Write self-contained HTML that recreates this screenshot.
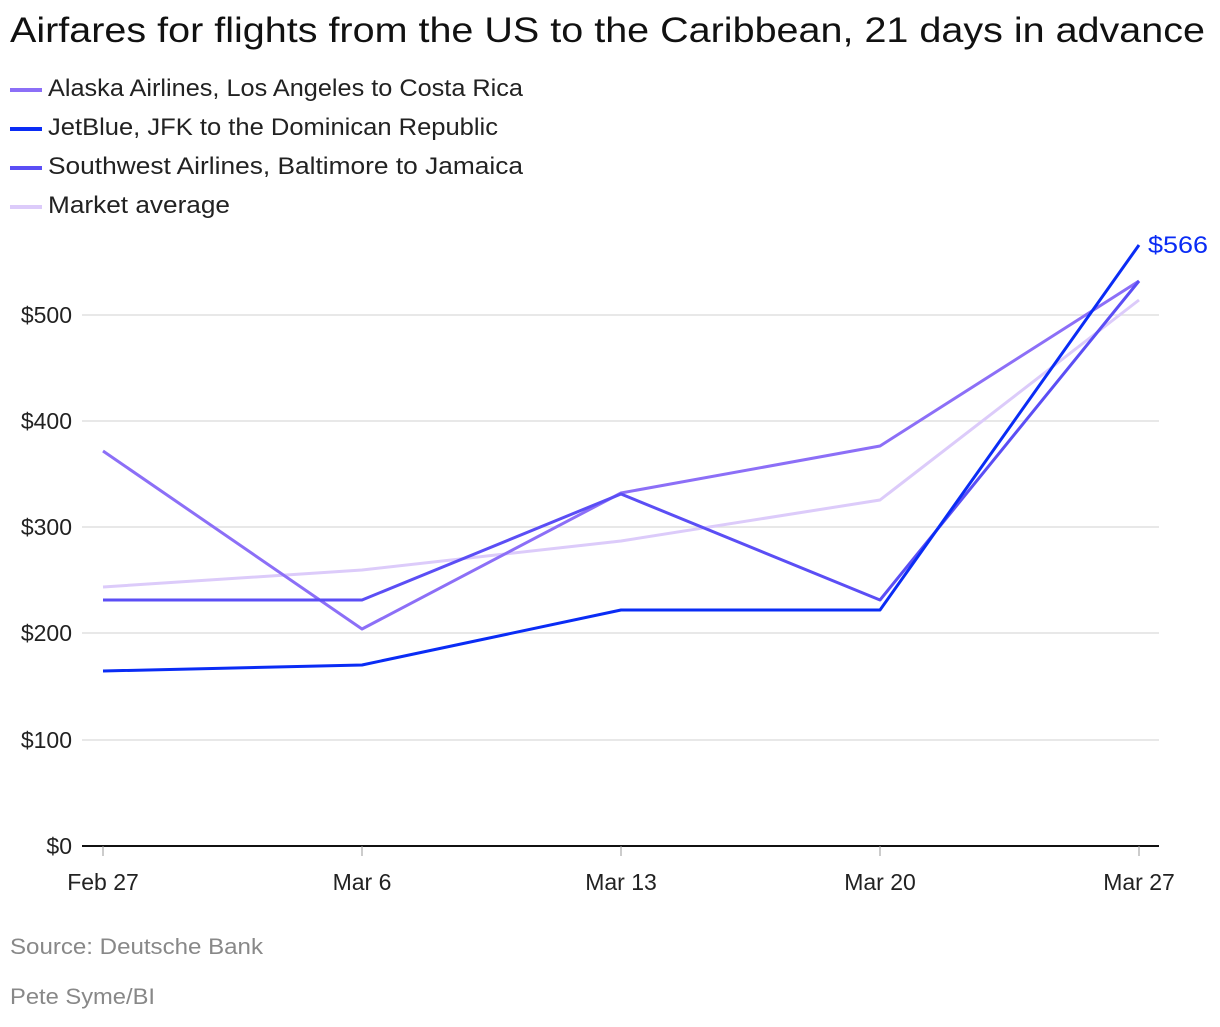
<!DOCTYPE html>
<html><head><meta charset="utf-8"><style>
body{margin:0;background:#fff;font-family:"Liberation Sans",sans-serif;}
</style></head><body>
<svg width="1220" height="1022" xmlns="http://www.w3.org/2000/svg" font-family="Liberation Sans, sans-serif">
<text x="10" y="42" font-size="35" fill="#111" textLength="1195" lengthAdjust="spacingAndGlyphs">Airfares for flights from the US to the Caribbean, 21 days in advance</text>
<g font-size="24" fill="#222">
<line x1="10" y1="90" x2="42" y2="90" stroke="#8c6ff7" stroke-width="4"/><text x="48" y="96" textLength="475" lengthAdjust="spacingAndGlyphs">Alaska Airlines, Los Angeles to Costa Rica</text>
<line x1="10" y1="129" x2="42" y2="129" stroke="#0a2cf5" stroke-width="4"/><text x="48" y="135" textLength="450" lengthAdjust="spacingAndGlyphs">JetBlue, JFK to the Dominican Republic</text>
<line x1="10" y1="168" x2="42" y2="168" stroke="#5b4ef5" stroke-width="4"/><text x="48" y="174" textLength="475" lengthAdjust="spacingAndGlyphs">Southwest Airlines, Baltimore to Jamaica</text>
<line x1="10" y1="207" x2="42" y2="207" stroke="#dccbfa" stroke-width="4"/><text x="48" y="213" textLength="182" lengthAdjust="spacingAndGlyphs">Market average</text>
</g>
<g stroke="#e0e0e0" stroke-width="1.5">
<line x1="82" y1="315" x2="1159" y2="315"/><line x1="82" y1="421" x2="1159" y2="421"/>
<line x1="82" y1="527" x2="1159" y2="527"/><line x1="82" y1="633" x2="1159" y2="633"/>
<line x1="82" y1="740" x2="1159" y2="740"/>
</g>
<line x1="82" y1="846" x2="1159" y2="846" stroke="#111" stroke-width="2"/>
<g stroke="#999" stroke-width="1"><line x1="103" y1="846" x2="103" y2="856"/><line x1="362" y1="846" x2="362" y2="856"/><line x1="621" y1="846" x2="621" y2="856"/><line x1="880" y1="846" x2="880" y2="856"/><line x1="1139" y1="846" x2="1139" y2="856"/></g>
<g font-size="23" fill="#222" text-anchor="end">
<text x="72" y="323">$500</text><text x="72" y="429">$400</text><text x="72" y="535">$300</text><text x="72" y="641">$200</text><text x="72" y="748">$100</text><text x="72" y="854">$0</text>
</g>
<g font-size="23" fill="#222" text-anchor="middle">
<text x="103" y="890">Feb 27</text><text x="362" y="890">Mar 6</text><text x="621" y="890">Mar 13</text><text x="880" y="890">Mar 20</text><text x="1139" y="890">Mar 27</text>
</g>
<g fill="none" stroke-width="3" stroke-linejoin="round">
<polyline stroke="#dccbfa" points="103,587 362,570 621,541 880,500 1139,300"/>
<polyline stroke="#8c6ff7" points="103,451 362,629 621,493 880,446 1139,281"/>
<polyline stroke="#5b4ef5" points="103,600 362,600 621,494 880,600 1139,281"/>
<polyline stroke="#0a2cf5" points="103,671 362,665 621,610 880,610 1139,245"/>
</g>
<text x="1148" y="253" font-size="24" fill="#0a2cf5" textLength="60" lengthAdjust="spacingAndGlyphs">$566</text>
<text x="10" y="954" font-size="22" fill="#888" textLength="253" lengthAdjust="spacingAndGlyphs">Source: Deutsche Bank</text>
<text x="10" y="1004" font-size="22" fill="#888" textLength="145" lengthAdjust="spacingAndGlyphs">Pete Syme/BI</text>
</svg>
</body></html>
